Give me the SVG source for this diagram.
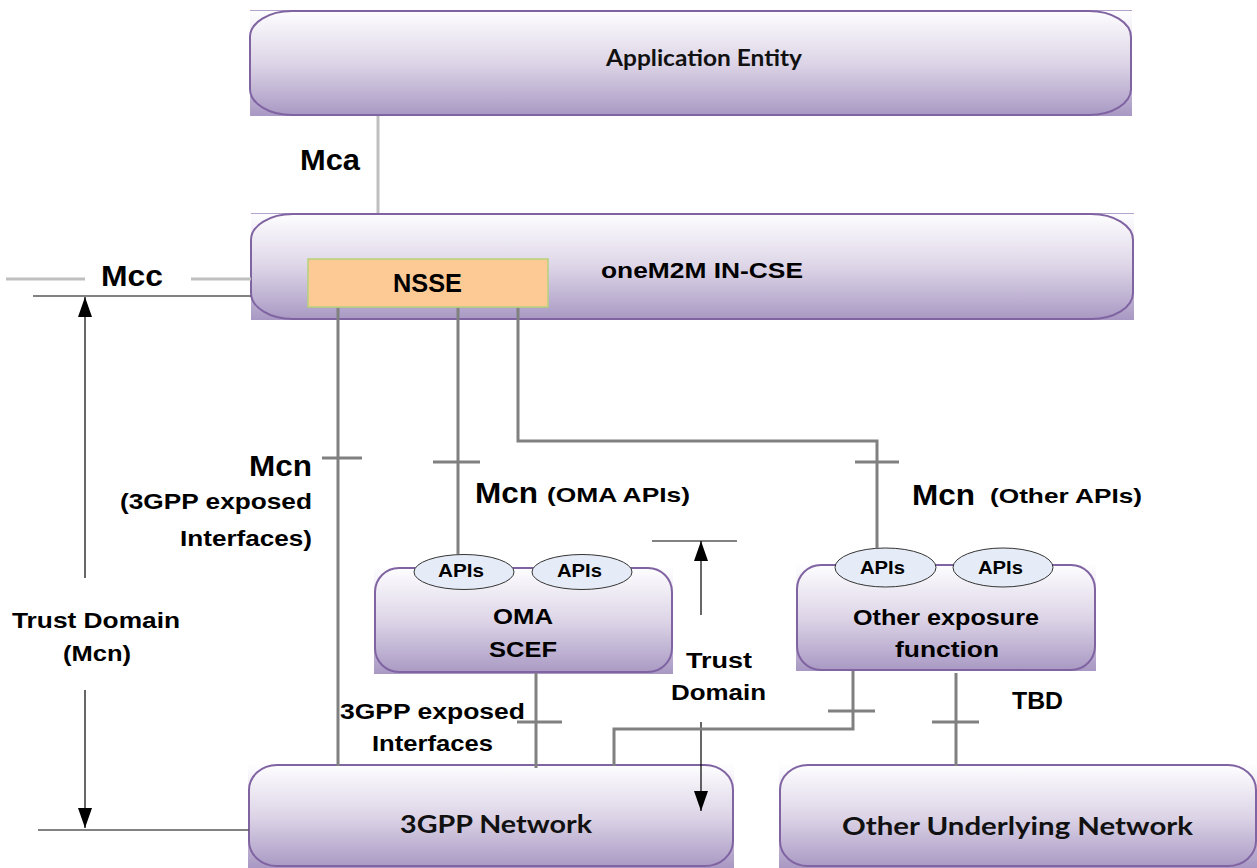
<svg xmlns="http://www.w3.org/2000/svg" width="1257" height="868" viewBox="0 0 1257 868">
<defs>
<linearGradient id="pg" x1="0" y1="0" x2="0" y2="1">
<stop offset="0" stop-color="#FEFEFF"/>
<stop offset="0.5" stop-color="#DDD5E7"/>
<stop offset="1" stop-color="#A898C3"/>
</linearGradient>
<marker id="ah" viewBox="0 0 20 14" markerWidth="20" markerHeight="14" refX="20" refY="7" orient="auto" markerUnits="userSpaceOnUse">
<path d="M0,0 L20,7 L0,14 z" fill="#000"/>
</marker>
<style>
.bg{fill:url(#pg)}
.bd{fill:none;stroke:#8064A2;stroke-width:2}
.tl{stroke:#B3A2CC;stroke-width:1}
.a{font-family:"Liberation Sans",Arial,sans-serif;font-weight:bold;fill:#000}
.c{font-family:Lato,"Open Sans",sans-serif;font-weight:bold;fill:#111}
.mcn{stroke:#808080;stroke-width:3;fill:none}
.lg{stroke:#BFBFBF;stroke-width:3;fill:none}
.th{stroke:#595959;stroke-width:1.5;fill:none}
.ar{stroke:#000;stroke-width:1.2;fill:none}
.api{fill:#E6ECF7;stroke:#333;stroke-width:1}
</style>
</defs>
<rect width="1257" height="868" fill="#fff"/>

<g id="ae">
<rect class="bg" x="250" y="10" width="882" height="106"/>
<line class="tl" x1="250" y1="10.5" x2="1132" y2="10.5"/>
<rect class="bd" x="250" y="11" width="881" height="104" rx="42" ry="26"/>
<text class="c" x="606" y="66" font-size="23" textLength="196" lengthAdjust="spacingAndGlyphs">Application Entity</text>
</g>

<g id="incse">
<rect class="bg" x="251" y="213" width="883" height="107"/>
<line class="tl" x1="251" y1="213.5" x2="1134" y2="213.5"/>
<rect class="bd" x="251" y="214" width="882" height="105" rx="42" ry="26"/>
<text class="a" x="601" y="278" font-size="22" textLength="202" lengthAdjust="spacingAndGlyphs">oneM2M IN-CSE</text>
</g>

<g id="nsse">
<rect x="308" y="259" width="240" height="48" fill="#FDCA95" stroke="#B5D27A" stroke-width="1.5"/>
<text class="a" x="393" y="292" font-size="26" textLength="69" lengthAdjust="spacingAndGlyphs">NSSE</text>
</g>

<g id="scef">
<rect class="bg" x="374" y="567" width="299" height="107"/>
<rect class="bd" x="375" y="568" width="297" height="104" rx="24" ry="24"/>
<ellipse class="api" cx="464" cy="572" rx="50" ry="17.5"/>
<ellipse class="api" cx="582" cy="572" rx="50" ry="17.5"/>
<text class="a" x="438" y="577" font-size="18" textLength="46" lengthAdjust="spacingAndGlyphs">APIs</text>
<text class="a" x="557" y="577" font-size="18" textLength="45" lengthAdjust="spacingAndGlyphs">APIs</text>
<text class="a" x="493" y="624" font-size="22" textLength="60" lengthAdjust="spacingAndGlyphs">OMA</text>
<text class="a" x="489" y="657" font-size="22" textLength="68" lengthAdjust="spacingAndGlyphs">SCEF</text>
</g>

<g id="other">
<rect class="bg" x="796" y="564" width="300" height="107"/>
<rect class="bd" x="797" y="565" width="298" height="105" rx="24" ry="24"/>
<ellipse class="api" cx="885.5" cy="567.5" rx="50.5" ry="19.5"/>
<ellipse class="api" cx="1003" cy="567.5" rx="50" ry="19.5"/>
<text class="a" x="860" y="574" font-size="18" textLength="45" lengthAdjust="spacingAndGlyphs">APIs</text>
<text class="a" x="978" y="574" font-size="18" textLength="45" lengthAdjust="spacingAndGlyphs">APIs</text>
<text class="a" x="853" y="625" font-size="22" textLength="186" lengthAdjust="spacingAndGlyphs">Other exposure</text>
<text class="a" x="895" y="657" font-size="22" textLength="104" lengthAdjust="spacingAndGlyphs">function</text>
</g>

<g id="net3gpp">
<rect class="bg" x="248" y="764" width="486" height="104"/>
<rect class="bd" x="249" y="765" width="484" height="101" rx="28" ry="25"/>
<text class="c" x="400" y="833" font-size="25" textLength="192" lengthAdjust="spacingAndGlyphs">3GPP Network</text>
</g>

<g id="othernet">
<rect class="bg" x="779" y="764" width="478" height="104"/>
<rect class="bd" x="780" y="765" width="476" height="101" rx="28" ry="25"/>
<text class="c" x="842" y="835" font-size="25" textLength="351" lengthAdjust="spacingAndGlyphs">Other Underlying Network</text>
</g>

<g id="connectors">
<line class="lg" x1="378" y1="116" x2="378" y2="213"/>
<line class="lg" x1="6" y1="279" x2="85" y2="279"/>
<line class="lg" x1="191" y1="279" x2="251" y2="279"/>
<line class="th" x1="33" y1="296" x2="251" y2="296"/>
<line class="th" x1="38" y1="830" x2="249" y2="830"/>
<line class="ar" x1="85" y1="578" x2="85" y2="297" marker-end="url(#ah)"/>
<line class="ar" x1="85" y1="690" x2="85" y2="828" marker-end="url(#ah)"/>
<line class="th" x1="652" y1="541" x2="737" y2="541"/>
<line class="ar" x1="701" y1="615" x2="701" y2="541" marker-end="url(#ah)"/>
<line class="ar" x1="701" y1="722" x2="701" y2="811" marker-end="url(#ah)"/>
<line class="mcn" x1="338" y1="308" x2="338" y2="766"/>
<line class="mcn" x1="322" y1="458" x2="362" y2="458"/>
<line class="mcn" x1="458" y1="308" x2="458" y2="554"/>
<line class="mcn" x1="433" y1="462" x2="480" y2="462"/>
<polyline class="mcn" points="518,308 518,441 877,441 877,548"/>
<line class="mcn" x1="855" y1="462" x2="899" y2="462"/>
<line class="mcn" x1="536" y1="673" x2="536" y2="768"/>
<line class="mcn" x1="517" y1="722" x2="562" y2="722"/>
<polyline class="mcn" points="853,671 853,729 614,729 614,766"/>
<line class="mcn" x1="828" y1="711" x2="875" y2="711"/>
<line class="mcn" x1="956" y1="673" x2="956" y2="766"/>
<line class="mcn" x1="932" y1="722" x2="979" y2="722"/>
</g>

<g id="labels">
<text class="a" x="300" y="170" font-size="30" textLength="60" lengthAdjust="spacingAndGlyphs">Mca</text>
<text class="a" x="101" y="286" font-size="30" textLength="62" lengthAdjust="spacingAndGlyphs">Mcc</text>
<text class="a" x="249" y="476" font-size="29" textLength="63" lengthAdjust="spacingAndGlyphs">Mcn</text>
<text class="a" x="120" y="509" font-size="22" textLength="192" lengthAdjust="spacingAndGlyphs">(3GPP exposed</text>
<text class="a" x="180" y="546" font-size="22" textLength="132" lengthAdjust="spacingAndGlyphs">Interfaces)</text>
<text class="a" x="475" y="503" font-size="29" textLength="63" lengthAdjust="spacingAndGlyphs">Mcn</text>
<text class="a" x="547" y="502" font-size="21" textLength="143" lengthAdjust="spacingAndGlyphs">(OMA APIs)</text>
<text class="a" x="912" y="505" font-size="29" textLength="63" lengthAdjust="spacingAndGlyphs">Mcn</text>
<text class="a" x="990" y="503" font-size="21" textLength="152" lengthAdjust="spacingAndGlyphs">(Other APIs)</text>
<text class="a" x="12" y="628" font-size="22" textLength="168" lengthAdjust="spacingAndGlyphs">Trust Domain</text>
<text class="a" x="63" y="661" font-size="22" textLength="68" lengthAdjust="spacingAndGlyphs">(Mcn)</text>
<text class="a" x="340" y="719" font-size="22" textLength="185" lengthAdjust="spacingAndGlyphs">3GPP exposed</text>
<text class="a" x="372" y="751" font-size="22" textLength="121" lengthAdjust="spacingAndGlyphs">Interfaces</text>
<text class="a" x="686" y="668" font-size="22" textLength="66" lengthAdjust="spacingAndGlyphs">Trust</text>
<text class="a" x="671" y="700" font-size="22" textLength="95" lengthAdjust="spacingAndGlyphs">Domain</text>
<text class="a" x="1012" y="709" font-size="23" textLength="51" lengthAdjust="spacingAndGlyphs">TBD</text>
</g>
</svg>
